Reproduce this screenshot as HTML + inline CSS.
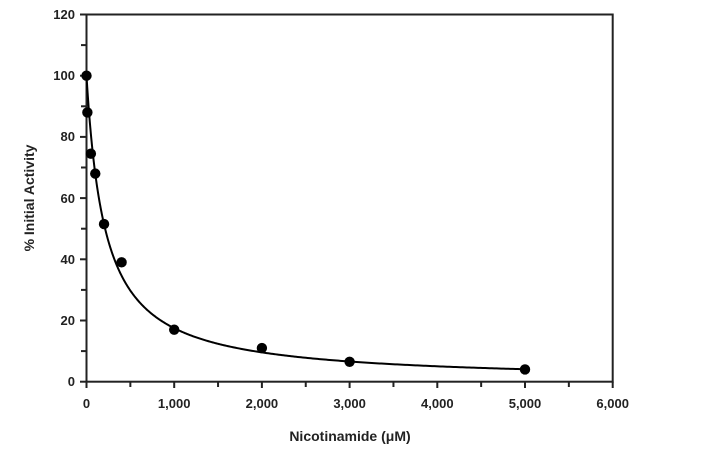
<!DOCTYPE html>
<html><head><meta charset="utf-8"><style>
html,body{margin:0;padding:0;background:#fff;width:718px;height:455px;overflow:hidden}
text{font-family:"Liberation Sans",Arial,sans-serif;font-weight:bold;fill:#222}
</style></head><body>
<svg id="s" width="718" height="455" viewBox="0 0 718 455" xmlns="http://www.w3.org/2000/svg">
<g stroke="#222" stroke-width="2" fill="none">
<rect x="86.5" y="14.5" width="526.2" height="367.2"/>
</g>
<g id="ticks" stroke="#222" stroke-width="2"></g>
<g font-size="13" text-anchor="end">
<text x="75" y="386">0</text>
<text x="75" y="325">20</text>
<text x="75" y="264">40</text>
<text x="75" y="203">60</text>
<text x="75" y="141">80</text>
<text x="75" y="80">100</text>
<text x="75" y="19">120</text>
</g>
<g font-size="13" text-anchor="middle">
<text x="86.5" y="408">0</text>
<text x="174.2" y="408">1,000</text>
<text x="261.9" y="408">2,000</text>
<text x="349.6" y="408">3,000</text>
<text x="437.3" y="408">4,000</text>
<text x="525" y="408">5,000</text>
<text x="612.7" y="408">6,000</text>
</g>
<text x="350" y="441" font-size="14" text-anchor="middle">Nicotinamide (μM)</text>
<text transform="translate(34,198) rotate(-90)" font-size="14" text-anchor="middle">% Initial Activity</text>
<path id="curve" stroke="#000" stroke-width="2" fill="none"/>
<g id="dots" fill="#000"></g>
</svg>
<script>
function X(x){return 86.5+x*0.0877}
function Y(y){return 381.7-y*3.06}
var t=document.getElementById('ticks'),ns='http://www.w3.org/2000/svg',h='';
for(var i=0;i<=12;i++){var y=381.7-i*30.6;h+='<line x1="'+(i%2?81:80)+'" x2="86.5" y1="'+y+'" y2="'+y+'"/>';}
for(var i=0;i<=12;i++){var x=86.5+i*43.85;h+='<line y1="381.7" y2="'+(i%2?387:388)+'" x1="'+x+'" x2="'+x+'"/>';}
t.innerHTML=h;
var d='';
for(var k=0;k<=400;k++){var x=5000*Math.pow(k/400,2.2);var y=100/(1+x/212);d+=(k?'L':'M')+X(x).toFixed(2)+','+Y(y).toFixed(2);}
document.getElementById('curve').setAttribute('d',d);
var pts=[[0,100],[10,88],[50,74.5],[100,68],[200,51.5],[400,39],[1000,17],[2000,11],[3000,6.5],[5000,4]],g='';
pts.forEach(function(p){g+='<circle cx="'+X(p[0])+'" cy="'+Y(p[1])+'" r="5.2"/>';});
document.getElementById('dots').innerHTML=g;
</script>
</body></html>
